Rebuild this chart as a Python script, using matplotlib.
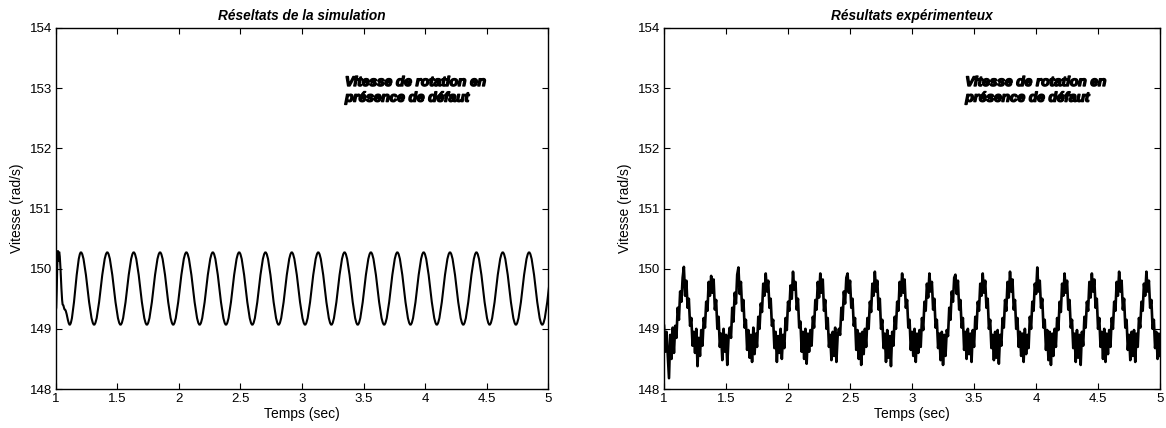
import numpy as np
import matplotlib
matplotlib.use("Agg")
import matplotlib.pyplot as plt
from matplotlib.path import Path
from matplotlib.patches import PathPatch
import matplotlib.patheffects as pe

plt.rcParams['font.family'] = ['Liberation Sans', 'DejaVu Sans']

# simulated speed: turning points of the oscillation (time in s, speed in rad/s)
sim_t = [1.000, 1.016, 1.021, 1.025, 1.056, 1.072,
         1.112, 1.203, 1.310, 1.417, 1.525, 1.632, 1.739, 1.846, 1.953, 2.060,
         2.168, 2.275, 2.382, 2.489, 2.596, 2.703, 2.810, 2.917, 3.025, 3.132,
         3.239, 3.346, 3.453, 3.560, 3.668, 3.775, 3.882, 3.989, 4.096, 4.203,
         4.311, 4.418, 4.525, 4.632, 4.739, 4.846, 4.953, 5.060]
sim_v = [149.32, 150.30, 150.12, 150.28, 149.40, 149.32,
         149.07, 150.27, 149.07, 150.27, 149.07, 150.27, 149.07, 150.27, 149.07, 150.27,
         149.07, 150.27, 149.07, 150.27, 149.07, 150.27, 149.07, 150.27, 149.07, 150.27,
         149.07, 150.27, 149.07, 150.27, 149.07, 150.27, 149.07, 150.27, 149.07, 150.27,
         149.07, 150.27, 149.07, 150.27, 149.07, 150.27, 149.07, 150.27]

# measured speed, sampled every 10 ms from t = 1 s
exp_t0 = 1.0
exp_dt = 0.01
exp_v = [
    149.05, 148.62, 148.95, 148.55, 148.18, 148.90, 148.50, 149.02, 148.60, 149.05, 148.85, 149.35,
    149.15, 149.62, 149.45, 149.85, 150.03, 149.55, 149.80, 149.35, 149.50, 149.05, 149.18, 148.72,
    148.95, 148.60, 149.00, 148.38, 148.85, 148.55, 148.98, 148.72, 149.18, 149.02, 149.45,
    149.30, 149.78, 149.55, 149.88, 149.60, 149.82, 149.32, 149.48, 149.00, 149.20, 148.70,
    148.92, 148.48, 149.00, 148.62, 148.90, 148.40, 148.85, 149.02, 148.85, 149.35, 149.12,
    149.60, 149.42, 149.90, 150.02, 149.58, 149.78, 149.30, 149.48, 149.02, 149.15, 148.65,
    148.98, 148.52, 148.90, 148.45, 149.02, 148.58, 148.92, 148.70, 149.20, 149.00, 149.42,
    149.28, 149.75, 149.55, 149.92, 149.62, 149.80, 149.35, 149.50, 149.05, 149.15, 148.68,
    148.95, 148.45, 148.88, 148.60, 149.00, 148.50, 148.90, 148.68, 149.18, 148.98, 149.45,
    149.30, 149.72, 149.50, 149.95, 149.65, 149.78, 149.32, 149.50, 149.02, 149.12, 148.62,
    148.95, 148.50, 149.00, 148.42, 148.92, 148.62, 148.98, 148.72, 149.20, 149.02, 149.48,
    149.32, 149.78, 149.52, 149.92, 149.60, 149.82, 149.30, 149.48, 149.00, 149.18, 148.70,
    148.90, 148.48, 148.95, 148.55, 149.02, 148.45, 148.88, 149.00, 148.90, 149.35, 149.15,
    149.62, 149.42, 149.85, 149.92, 149.60, 149.80, 149.35, 149.50, 149.05, 149.18, 148.65,
    148.98, 148.50, 148.92, 148.40, 148.95, 148.58, 149.00, 148.70, 149.18, 149.00, 149.45,
    149.28, 149.75, 149.55, 149.95, 149.62, 149.80, 149.32, 149.50, 149.00, 149.15, 148.68,
    148.92, 148.45, 148.98, 148.52, 148.88, 148.38, 148.95, 148.72, 149.20, 149.00, 149.45,
    149.30, 149.78, 149.55, 149.92, 149.60, 149.82, 149.35, 149.48, 149.02, 149.15, 148.65,
    148.95, 148.55, 149.00, 148.45, 148.92, 148.60, 148.98, 148.70, 149.18, 148.98, 149.45,
    149.30, 149.75, 149.52, 149.92, 149.62, 149.78, 149.32, 149.50, 149.02, 149.15, 148.68,
    148.92, 148.48, 148.95, 148.40, 148.90, 148.55, 148.98, 148.88, 149.35, 149.15,
    149.62, 149.45, 149.85, 149.90, 149.58, 149.80, 149.32, 149.48, 149.02, 149.18, 148.65,
    148.95, 148.50, 149.00, 148.58, 148.92, 148.45, 148.98, 148.70, 149.20, 149.00, 149.45,
    149.30, 149.75, 149.55, 149.92, 149.60, 149.80, 149.35, 149.50, 149.00, 149.15, 148.68,
    148.90, 148.48, 148.95, 148.52, 148.98, 148.42, 148.90, 148.72, 149.18, 149.02, 149.48,
    149.30, 149.78, 149.52, 149.95, 149.62, 149.82, 149.32, 149.48, 149.00, 149.18, 148.70,
    148.95, 148.55, 148.92, 148.45, 149.00, 148.58, 148.90, 148.68, 149.20, 149.00, 149.45,
    149.30, 149.75, 149.58, 150.02, 149.62, 149.80, 149.35, 149.50, 149.02, 149.15, 148.65,
    148.98, 148.48, 148.95, 148.40, 148.92, 148.55, 149.00, 148.70, 149.18, 148.98, 149.45,
    149.28, 149.75, 149.55, 149.92, 149.60, 149.80, 149.32, 149.48, 149.02, 149.15, 148.68,
    148.92, 148.45, 148.98, 148.52, 148.90, 148.40, 148.95, 148.72, 149.20, 149.02, 149.45,
    149.30, 149.78, 149.52, 149.92, 149.62, 149.82, 149.35, 149.50, 149.00, 149.18, 148.70,
    148.95, 148.50, 149.00, 148.45, 148.92, 148.58, 148.98, 148.70, 149.18, 149.00, 149.45,
    149.30, 149.78, 149.55, 149.95, 149.62, 149.80, 149.32, 149.50, 149.02, 149.15, 148.65,
    148.90, 148.48, 148.95, 148.55, 148.98, 148.45, 148.92, 148.70, 149.18, 149.02, 149.45,
    149.30, 149.75, 149.55, 149.95, 149.62, 149.80, 149.35, 149.48, 149.00, 149.15, 148.68,
    148.95, 148.50, 148.92, 148.55,
]

x_ticks = [1, 1.5, 2, 2.5, 3, 3.5, 4, 4.5, 5]
x_tick_labels = ['1', '1.5', '2', '2.5', '3', '3.5', '4', '4.5', '5']
y_ticks = [148, 149, 150, 151, 152, 153, 154]

titles = ['Réseltats de la simulation', 'Résultats expérimenteux']
note = 'Vitesse de rotation en\nprésence de défaut'
note_x = [3.35, 3.43]


def smooth_path(ts, vs):
    # cubic segments with flat tangents at every turning point
    verts = [(ts[0], vs[0])]
    codes = [Path.MOVETO]
    for i in range(1, len(ts)):
        dt = ts[i] - ts[i - 1]
        verts += [(ts[i - 1] + 0.36 * dt, vs[i - 1]),
                  (ts[i] - 0.36 * dt, vs[i]),
                  (ts[i], vs[i])]
        codes += [Path.CURVE4] * 3
    return Path(verts, codes)


def style_axes(ax, title, nx):
    ax.set_xlim(1, 5)
    ax.set_ylim(148, 154)
    ax.set_xticks(x_ticks)
    ax.set_xticklabels(x_tick_labels)
    ax.set_yticks(y_ticks)
    ax.tick_params(direction='in', length=4, width=0.8, labelsize=9.5,
                   top=True, right=True, pad=3, colors='black')
    for s in ax.spines.values():
        s.set_linewidth(1.0)
    ax.set_title(title, fontsize=9.8, fontweight='bold', style='italic', pad=6)
    ax.set_xlabel('Temps (sec)', fontsize=10, labelpad=1)
    ax.set_ylabel('Vitesse (rad/s)', fontsize=10, labelpad=4)
    ax.text(nx, 153.22, note, fontsize=9.8, fontweight='bold', style='italic',
            va='top', ha='left', linespacing=1.15,
            path_effects=[pe.withStroke(linewidth=1.1, foreground='black')])


fig = plt.figure(figsize=(11.66, 4.28), dpi=100)
ax1 = fig.add_axes([0.048, 0.0911, 0.422, 0.8435])
ax2 = fig.add_axes([0.5695, 0.0911, 0.4254, 0.8435])

ax1.add_patch(PathPatch(smooth_path(sim_t, sim_v), facecolor='none',
                        edgecolor='black', linewidth=1.5))
style_axes(ax1, titles[0], note_x[0])

exp_t = exp_t0 + exp_dt * np.arange(len(exp_v))
ax2.plot(exp_t, exp_v, color='black', linewidth=1.9)
style_axes(ax2, titles[1], note_x[1])

fig.savefig('out.png', dpi=100)
